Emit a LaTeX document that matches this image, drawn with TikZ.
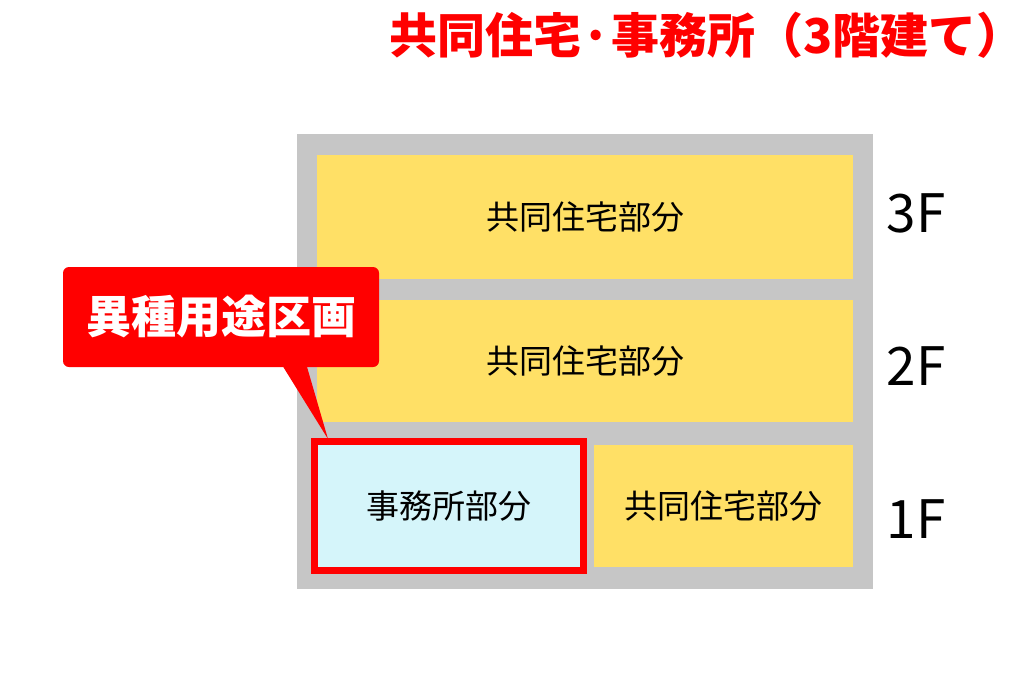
\documentclass[tikz,border=0pt]{standalone}
\usepackage{fontspec}
\setmainfont{Noto Sans CJK JP}
\usepackage{xcolor}
\usepackage{tikz}
\usetikzlibrary{calc}
\usetikzlibrary{shapes}
\usetikzlibrary{positioning}

\definecolor{wallgray}{RGB}{198,198,198}
\definecolor{unityellow}{RGB}{255,224,102}
\definecolor{officeblue}{RGB}{213,245,250}
\definecolor{alertred}{RGB}{255,0,0}

\tikzset{
  unit/.style={rectangle, fill=unityellow, inner sep=0pt, font=\fontsize{33}{38}\selectfont},
  floorlabel/.style={inner sep=0pt, font=\fontsize{53}{60}\selectfont}
}

\begin{document}
\begin{tikzpicture}[x=1pt, y=-1pt]
\useasboundingbox (0,0) rectangle (1024,672);
\node [rectangle, fill=wallgray, minimum width=576, minimum height=455, inner sep=0pt] (wall) at (585, 361.5) {};
\node [unit, minimum width=536, minimum height=124] (U3) at (585, 217) {共同住宅部分};
\node [unit, minimum width=536, minimum height=122] (U2) at (585, 361) {共同住宅部分};
\node [unit, minimum width=259, minimum height=122] (U1) at (723.5, 506) {共同住宅部分};
\node [rectangle, fill=officeblue, draw=alertred, line width=7pt, minimum width=269, minimum height=129, inner sep=0pt, font=\fontsize{33}{38}\selectfont] (office) at (449, 506) {事務所部分};
\node [floorlabel] (F3) at (916, 213) {3F};
\node [floorlabel] (F2) at (916, 366) {2F};
\node [floorlabel] (F1) at (916, 519) {1F};
\node [rectangle, rounded corners=6pt, fill=alertred, text=white, minimum width=316, minimum height=100, inner sep=0pt, font=\fontsize{45}{50}\selectfont\bfseries] (callout) at (221, 317) {異種用途区画};
\coordinate (tip) at (328, 439);
\fill [alertred] ($(callout.south west)+(220,-1)$) -- ($(callout.south west)+(244,-1)$) -- (tip) -- cycle;
\node [text=alertred, inner sep=0pt, font=\fontsize{48}{54}\selectfont\bfseries] (title) at (707, 35) {共同住宅·事務所（3階建て）};
\end{tikzpicture}
\end{document}
